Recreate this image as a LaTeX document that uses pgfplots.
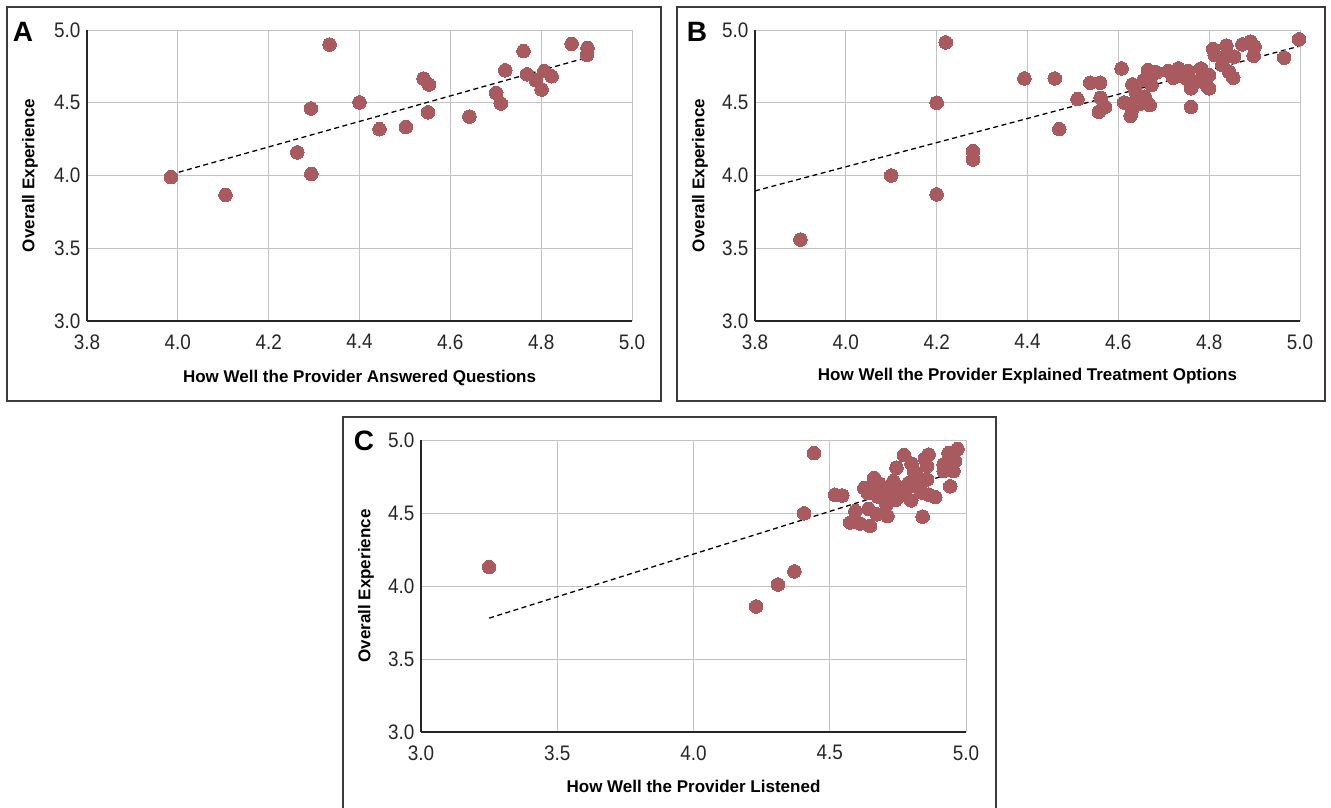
\documentclass[border=0pt]{standalone}
\usepackage{fontspec}
\setmainfont{Liberation Sans}
\newfontfamily\narrowfont[FakeStretch=0.9]{Liberation Sans}
\usepackage{pgfplots}
\pgfplotsset{compat=1.18}
\definecolor{ptcol}{RGB}{168,90,94}
\definecolor{framecol}{RGB}{60,60,60}
\definecolor{gridcol}{RGB}{195,195,195}

\pgfplotsset{
  panel/.style={
    scale only axis, width=545pt, height=291pt,
    xmax=5.0, ymin=3, ymax=5,
    ytick={3,3.5,4,4.5,5},
    grid=major,
    major grid style={color=gridcol, line width=0.8pt},
    axis x line*=bottom, axis y line*=left,
    x axis line style={-, line width=1.4pt, color=black!85},
    y axis line style={-, line width=1.4pt, color=black!85},
    major tick length=0pt,
    clip=false,
    /pgf/number format/assume math mode=true,
    /pgf/number format/.cd, fixed, fixed zerofill, precision=1, /pgfplots/.cd,
    ticklabel style={font=\narrowfont\fontsize{21}{24}\selectfont, color=black!85},
    yticklabel style={xshift=-3pt},
    xticklabel style={yshift=-10pt},
    label style={font=\bfseries\fontsize{17}{20}\selectfont},
  },
  pts/.style={only marks, mark=*, mark size=6.8pt,
    mark options={fill=ptcol, draw=ptcol, line width=0pt}},
  trend/.style={black, line width=1.3pt, dash pattern=on 5pt off 3.5pt},
}

\begin{document}
\begin{tikzpicture}
\useasboundingbox (0pt,0pt) rectangle (1331pt,807pt);
% frames
\draw[line width=1.6pt, framecol] (7pt,800pt) rectangle (661pt,406pt);
\draw[line width=1.6pt, framecol] (677pt,800pt) rectangle (1325pt,406pt);
\draw[line width=1.6pt, framecol] (343pt,-5pt) -- (343pt,390pt) -- (996pt,390pt) -- (996pt,-5pt);

% ---------------- Panel A ----------------
\begin{axis}[panel, at={(87pt,486pt)}, anchor=south west,
  xmin=3.8, xtick={3.8,4.0,4.2,4.4,4.6,4.8,5.0},
  xlabel={How Well the Provider Answered Questions},
  ylabel={Overall Experience},
  xlabel style={at={(axis description cs:0.5,-0.196)}, anchor=center},
  ylabel style={at={(axis description cs:-0.1046,0.5)}, anchor=center},
]
\addplot[trend] coordinates {(3.984,4.007) (4.90,4.81)};
\addplot[pts] coordinates {
(3.985,3.989) (4.105,3.866) (4.263,4.159) (4.293,4.461) (4.294,4.011)
(4.334,4.900) (4.400,4.502) (4.444,4.318) (4.502,4.334) (4.541,4.666)
(4.553,4.625) (4.551,4.434) (4.642,4.405) (4.701,4.568) (4.711,4.495)
(4.721,4.723) (4.761,4.855) (4.769,4.695) (4.788,4.655) (4.801,4.591)
(4.807,4.718) (4.823,4.682) (4.867,4.905) (4.902,4.877) (4.901,4.830)
};
\end{axis}

% ---------------- Panel B ----------------
\begin{axis}[panel, at={(755pt,486pt)}, anchor=south west,
  xmin=3.8, xtick={3.8,4.0,4.2,4.4,4.6,4.8,5.0},
  xlabel={How Well the Provider Explained Treatment Options},
  ylabel={Overall Experience},
  xlabel style={at={(axis description cs:0.5,-0.189)}, anchor=center},
  ylabel style={at={(axis description cs:-0.101,0.5)}, anchor=center},
]
\addplot[trend] coordinates {(3.80,3.894) (5.00,4.89)};
\addplot[pts] coordinates {
(3.900,3.560) (4.100,4.000) (4.200,4.500) (4.220,4.915) (4.200,3.870)
(4.280,4.167) (4.280,4.110) (4.393,4.667) (4.460,4.667) (4.470,4.319)
(4.510,4.525) (4.538,4.638) (4.560,4.638) (4.561,4.534) (4.571,4.472)
(4.557,4.438) (4.607,4.736) (4.613,4.502) (4.631,4.626) (4.638,4.576)
(4.634,4.500) (4.627,4.410) (4.631,4.461) (4.656,4.656) (4.665,4.725)
(4.650,4.495) (4.669,4.484) (4.658,4.541) (4.673,4.713) (4.684,4.709)
(4.673,4.622) (4.710,4.718) (4.721,4.672) (4.732,4.736) (4.744,4.679)
(4.754,4.718) (4.749,4.667) (4.760,4.599) (4.760,4.472) (4.771,4.644)
(4.782,4.736) (4.785,4.667) (4.796,4.610) (4.800,4.690) (4.800,4.599)
(4.809,4.869) (4.812,4.828) (4.838,4.892) (4.836,4.817) (4.855,4.817)
(4.829,4.759) (4.844,4.713) (4.853,4.672) (4.873,4.901) (4.891,4.920)
(4.900,4.885) (4.898,4.823) (4.965,4.810) (4.998,4.936)
};
\end{axis}

% ---------------- Panel C ----------------
\begin{axis}[panel, at={(421pt,75pt)}, anchor=south west, height=292pt,
  xmin=3.0, xtick={3.0,3.5,4.0,4.5,5.0},
  xlabel={How Well the Provider Listened},
  ylabel={Overall Experience},
  xlabel style={at={(axis description cs:0.5,-0.188)}, anchor=center},
  ylabel style={at={(axis description cs:-0.101,0.5)}, anchor=center},
]
\addplot[trend] coordinates {(3.25,3.78) (4.96,4.78)};
\addplot[pts] coordinates {
(3.250,4.130) (4.230,3.860) (4.310,4.010) (4.370,4.100) (4.406,4.498)
(4.442,4.910) (4.519,4.625) (4.546,4.620) (4.575,4.435) (4.594,4.512)
(4.611,4.428) (4.648,4.412) (4.642,4.528) (4.672,4.491) (4.712,4.479)
(4.627,4.671) (4.639,4.637) (4.663,4.741) (4.682,4.701) (4.676,4.613)
(4.708,4.556) (4.715,4.648) (4.734,4.718) (4.742,4.590) (4.754,4.671)
(4.745,4.810) (4.772,4.896) (4.778,4.648) (4.799,4.586) (4.800,4.838)
(4.805,4.718) (4.821,4.752) (4.837,4.641) (4.841,4.475) (4.841,4.729)
(4.849,4.873) (4.863,4.900) (4.857,4.822) (4.857,4.729) (4.863,4.625)
(4.887,4.609) (4.918,4.833) (4.918,4.787) (4.936,4.910) (4.942,4.683)
(4.954,4.787) (4.960,4.856) (4.969,4.938) (4.815,4.683) (4.790,4.706)
(4.766,4.625) (4.724,4.618) (4.700,4.660) (4.657,4.694) (4.809,4.787)
};
\end{axis}

% panel letters
\node[font=\bfseries\fontsize{28}{31}\selectfont] at (23pt,775pt) {A};
\node[font=\bfseries\fontsize{28}{31}\selectfont] at (697pt,775pt) {B};
\node[font=\bfseries\fontsize{28}{31}\selectfont] at (364pt,366pt) {C};
\end{tikzpicture}
\end{document}
